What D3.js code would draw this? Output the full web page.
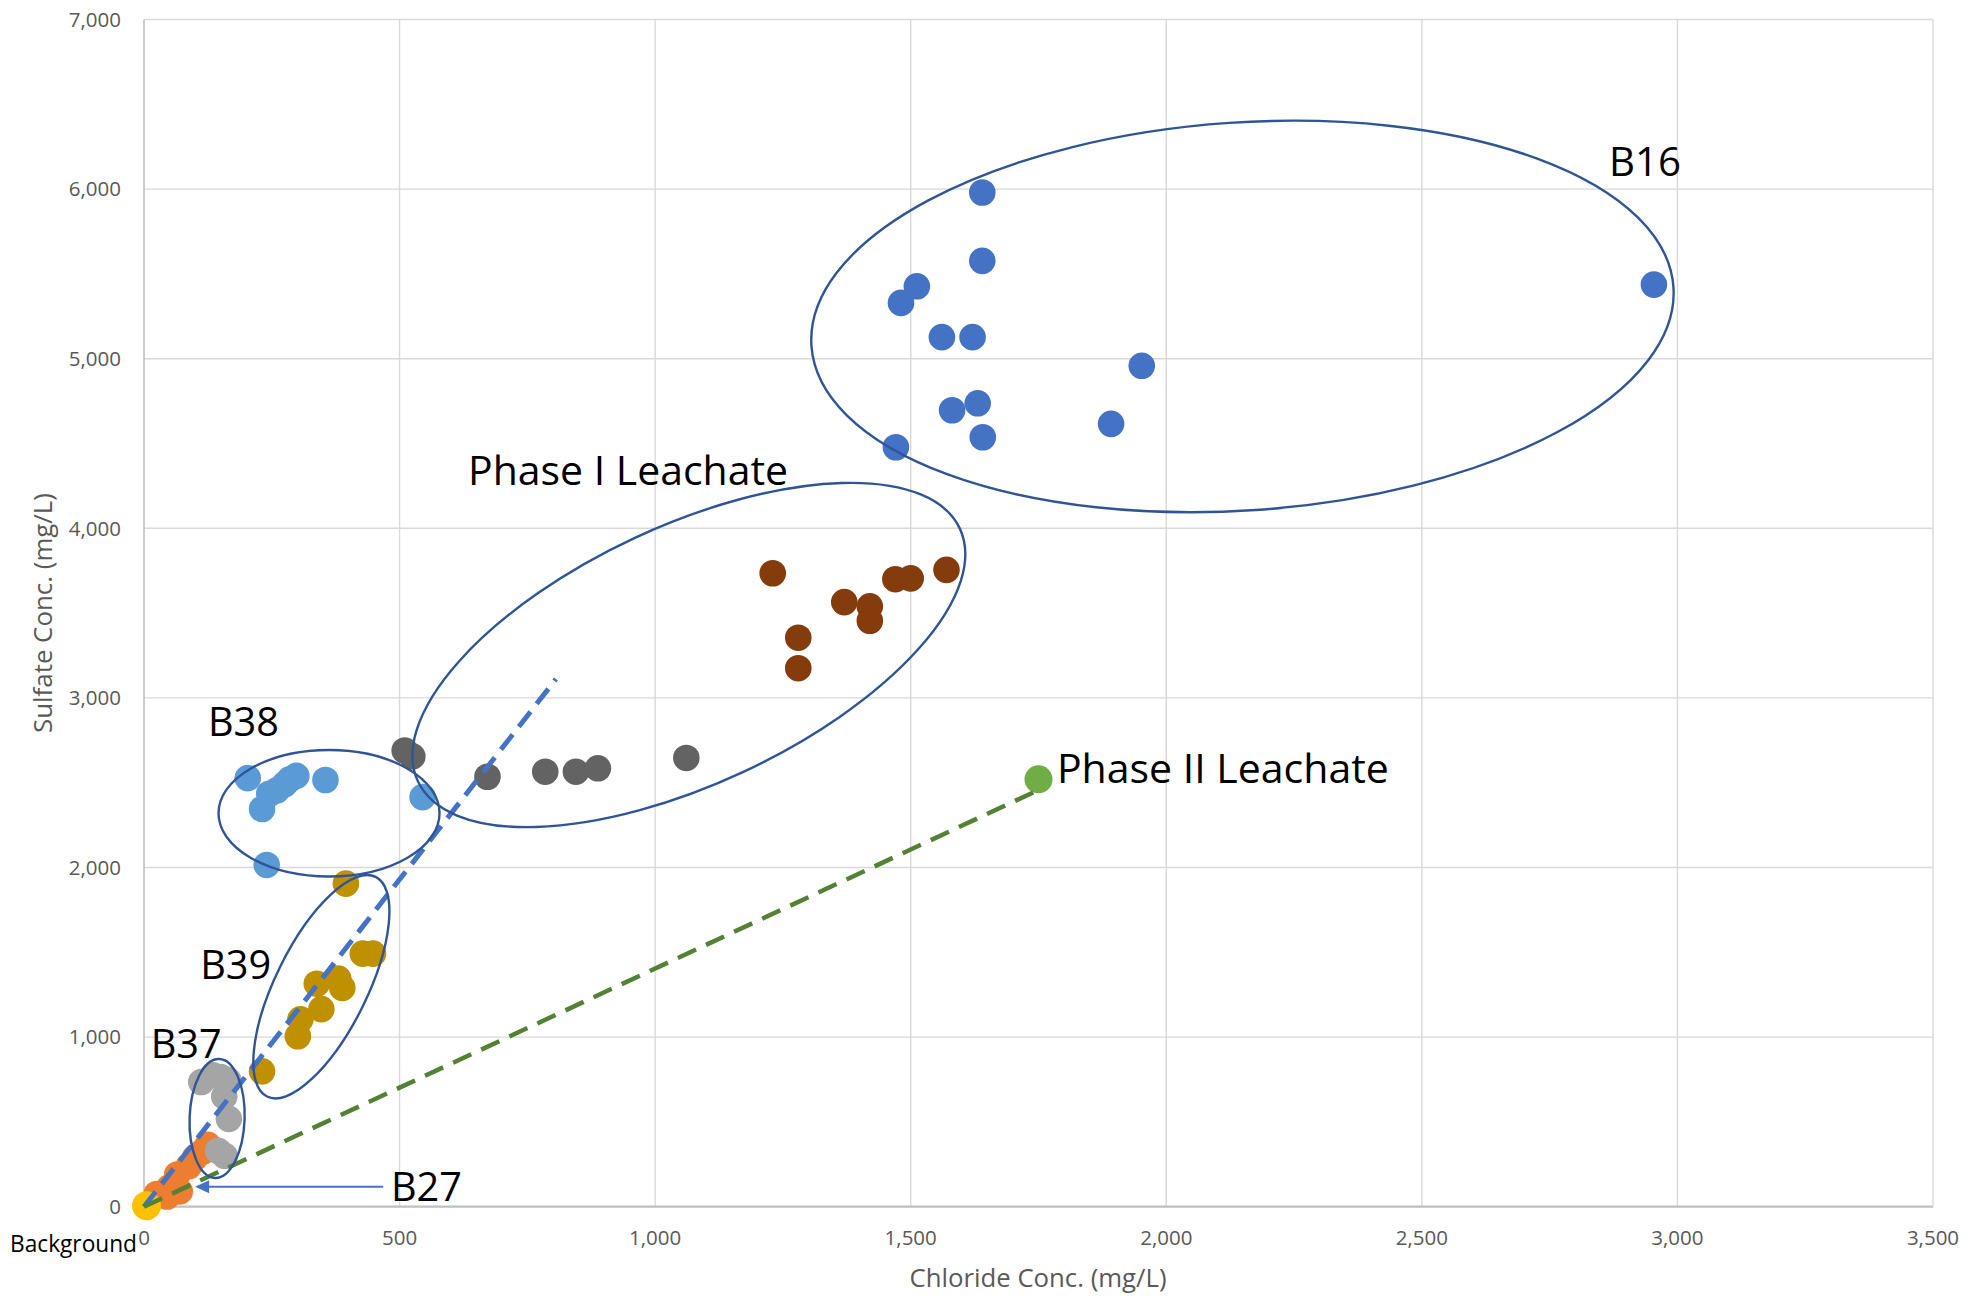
<!DOCTYPE html>
<html><head><meta charset="utf-8">
<script src="https://cdn.jsdelivr.net/npm/d3@7"></script>
<style>
body{margin:0;background:#fff}
svg{display:block}
text{font-family:'Open Sans','Noto Sans',sans-serif}
</style>
</head><body>
<svg id="chart" width="1975" height="1298"></svg>
<script>
// ---------------- data ----------------
const xTicks = [0, 500, 1000, 1500, 2000, 2500, 3000, 3500];
const yTicks = [0, 1000, 2000, 3000, 4000, 5000, 6000, 7000];

const seriesB27 = [[25,75],[45,60],[50,115],[70,90],[65,190],[88,240],[100,290],[115,325],[125,365]];
const seriesB37 = [[112,735],[135,775],[150,765],[165,745],[157,650],[166,518],[145,330],[158,300]];
const seriesB39 = [[395,1905],[428,1492],[448,1492],[338,1315],[380,1345],[388,1290],[347,1165],[306,1105],[301,1005],[231,798]];
const seriesB38 = [[203,2527],[245,2435],[260,2455],[275,2490],[285,2520],[298,2540],[355,2516],[231,2345],[240,2015],[545,2415]];
const seriesPhaseIGray = [[510,2690],[525,2655],[672,2535],[785,2565],[845,2565],[888,2585],[1061,2646]];
const seriesPhaseIBrown = [[1230,3735],[1280,3355],[1280,3175],[1370,3565],[1420,3540],[1420,3455],[1470,3700],[1500,3705],[1570,3755]];
const seriesB16 = [[1640,5980],[1640,5577],[1512,5427],[1481,5329],[1561,5127],[1621,5127],[1952,4958],[1631,4737],[1581,4696],[1892,4616],[1641,4537],[1471,4478],[2954,5437]];
const seriesPhaseII = [[1750,2520]];
const seriesBackground = [[5,5]];

// trendlines (data endpoints)
const trendBlue = [[0,0],[806,3111]];
const trendGreen = [[0,0],[1745,2450]];

// annotation labels: text, x, y (data units, left/baseline)
const labelTexts = ["B16","Phase I Leachate","B38","B39","B37","B27","Phase II Leachate"];
const labelX = [2866, 634, 125, 110, 13, 483, 1786];
const labelY = [6077, 4255, 2775, 1341, 875, 34, 2500];
const labelW = [72, 320, 71, 71, 71, 71, 332];

// ellipses: center in data units
const ellipseNames = ["B16","PhaseI","B38","B39","B37"];
const ellipseCX = [2149, 1066, 362, 347, 143];
const ellipseCY = [5249, 3253, 2320, 1297, 520];

// B27 arrow (data units)
const arrowFrom = [468, 118];
const arrowTo = [100, 118];

// ---------------- layout / style ----------------
const svg = d3.select("#chart");
const L = 144, R = 1933, T = 19.5, B = 1206.7;
const x = d3.scaleLinear().domain([0, 3500]).range([L, R]);
const y = d3.scaleLinear().domain([0, 7000]).range([B, T]);

const ellipseGeom = { // rx, ry (px), rotation (deg)
  B16: [432, 194, -3.9], PhaseI: [299, 129, -25], B38: [110.5, 63.3, 0],
  B39: [122.5, 45.8, -63.7], B37: [27.5, 59.5, 2]
};

// gridlines
svg.append("g").selectAll("line.v").data(xTicks.slice(1)).join("line")
  .attr("x1", d => x(d)).attr("x2", d => x(d)).attr("y1", T).attr("y2", B)
  .attr("stroke", "#D9D9D9").attr("stroke-width", 1.4);
svg.append("g").selectAll("line.h").data(yTicks.slice(1)).join("line")
  .attr("x1", L).attr("x2", R).attr("y1", d => y(d)).attr("y2", d => y(d))
  .attr("stroke", "#D9D9D9").attr("stroke-width", 1.4);
// axis lines
svg.append("line").attr("x1", L).attr("x2", L).attr("y1", T).attr("y2", B)
  .attr("stroke", "#BFBFBF").attr("stroke-width", 1.6);
svg.append("line").attr("x1", L).attr("x2", R).attr("y1", B).attr("y2", B)
  .attr("stroke", "#BFBFBF").attr("stroke-width", 2.2);

// tick labels
const fmt = d3.format(",");
svg.append("g").selectAll("text").data(yTicks).join("text")
  .attr("x", 121).attr("y", d => y(d) + 7.3)
  .attr("text-anchor", "end").attr("font-size", 20.5).attr("fill", "#595959")
  .text(d => fmt(d));
svg.append("g").selectAll("text").data(xTicks).join("text")
  .attr("x", d => x(d)).attr("y", 1245)
  .attr("text-anchor", "middle").attr("font-size", 20.5).attr("fill", "#595959")
  .text(d => fmt(d));

// axis titles
svg.append("text").attr("x", 1038).attr("y", 1286.7).attr("text-anchor", "middle")
  .attr("font-size", 26).attr("fill", "#595959")
  .attr("textLength", 257).attr("lengthAdjust", "spacingAndGlyphs")
  .text("Chloride Conc. (mg/L)");
svg.append("text").attr("transform", "translate(52,613) rotate(-90)").attr("text-anchor", "middle")
  .attr("font-size", 26).attr("fill", "#595959")
  .attr("textLength", 240).attr("lengthAdjust", "spacingAndGlyphs")
  .text("Sulfate Conc. (mg/L)");

// markers
const series = [
  {data: seriesB27, color: "#ED7D31", r: 13.3},
  {data: seriesB37, color: "#A5A5A5", r: 13.3},
  {data: seriesB39, color: "#BF9000", r: 13.3},
  {data: seriesB38, color: "#5B9BD5", r: 13.3},
  {data: seriesPhaseIGray, color: "#636363", r: 13.3},
  {data: seriesPhaseIBrown, color: "#843C0C", r: 13.3},
  {data: seriesB16, color: "#4472C4", r: 13.3},
  {data: seriesPhaseII, color: "#70AD47", r: 14},
  {data: seriesBackground, color: "#FFC000", r: 14.5}
];
series.forEach(s => {
  svg.append("g").selectAll("circle").data(s.data).join("circle")
    .attr("cx", d => x(d[0])).attr("cy", d => y(d[1])).attr("r", s.r)
    .attr("fill", s.color);
});

// trendlines
const line = d3.line().x(d => x(d[0])).y(d => y(d[1]));
svg.append("path").attr("d", line(trendBlue)).attr("fill", "none")
  .attr("stroke", "#4472C4").attr("stroke-width", 5).attr("stroke-dasharray", "19,10");
svg.append("path").attr("d", line(trendGreen)).attr("fill", "none")
  .attr("stroke", "#548235").attr("stroke-width", 4.5).attr("stroke-dasharray", "20,11");

// ellipses
ellipseNames.forEach((n, i) => {
  const g = ellipseGeom[n];
  svg.append("ellipse")
    .attr("transform", `translate(${x(ellipseCX[i])},${y(ellipseCY[i])}) rotate(${g[2]})`)
    .attr("rx", g[0]).attr("ry", g[1])
    .attr("fill", "none").attr("stroke", "#2F5597").attr("stroke-width", 2.4);
});

// arrow to B27
const ax1 = x(arrowFrom[0]), ay = y(arrowFrom[1]), ax2 = x(arrowTo[0]);
svg.append("line").attr("x1", ax1).attr("y1", ay).attr("x2", ax2 + 12).attr("y2", ay)
  .attr("stroke", "#4472C4").attr("stroke-width", 2);
svg.append("path")
  .attr("d", `M${ax2},${ay} L${ax2 + 14},${ay - 6.5} L${ax2 + 14},${ay + 6.5} Z`)
  .attr("fill", "#4472C4");

// annotation labels
labelTexts.forEach((t, i) => {
  svg.append("text").attr("x", x(labelX[i])).attr("y", y(labelY[i]))
    .attr("font-size", 41).attr("fill", "#000")
    .attr("textLength", labelW[i]).attr("lengthAdjust", "spacingAndGlyphs")
    .text(t);
});
svg.append("text").attr("x", 10).attr("y", 1251.7)
  .attr("font-size", 23).attr("fill", "#000")
  .attr("textLength", 127).attr("lengthAdjust", "spacingAndGlyphs")
  .text("Background");
</script>
</body></html>
